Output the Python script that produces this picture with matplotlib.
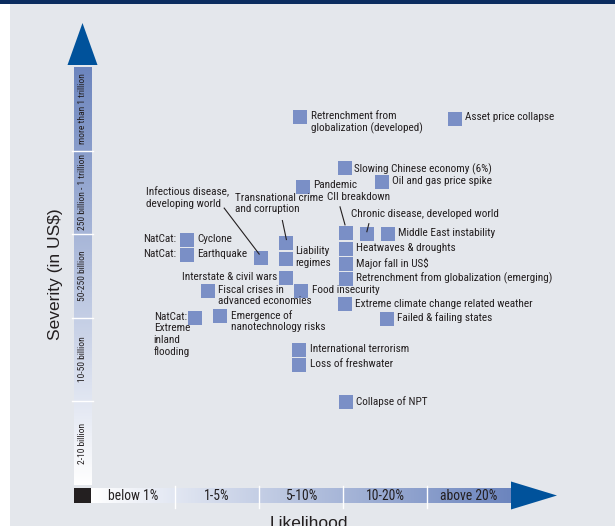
import matplotlib.pyplot as plt
import numpy as np
from matplotlib.patches import Polygon, Rectangle
from matplotlib.colors import LinearSegmentedColormap

# Axis bands
likelihood_bands = ['below 1%', '1-5%', '5-10%', '10-20%', 'above 20%']
severity_bands = ['2-10 billion', '10-50 billion', '50-250 billion',
                  '250 billion - 1 trillion', 'more than 1 trillion']

# Risks: position on the likelihood / severity scales (0-5, one unit per band)
risks = [
    'Retrenchment from\nglobalization (developed)',
    'Asset price collapse',
    'Slowing Chinese economy (6%)',
    'Oil and gas price spike',
    'Pandemic',
    'CII breakdown',
    'Chronic disease, developed world',
    'Middle East instability',
    'Heatwaves & droughts',
    'Major fall in US$',
    'Retrenchment from globalization (emerging)',
    'Extreme climate change related weather',
    'Failed & failing states',
    'Food insecurity',
    'Transnational crime\nand corruption',
    'Liability\nregimes',
    'Interstate & civil wars',
    'Infectious disease,\ndeveloping world',
    'Cyclone',
    'Earthquake',
    'Fiscal crises in\nadvanced economies',
    'NatCat:\nExtreme\ninland\nflooding',
    'Emergence of\nnanotechnology risks',
    'International terrorism',
    'Loss of freshwater',
    'Collapse of NPT',
]
likelihood = [2.49, 4.33, 3.02, 3.46, 2.52, 3.03, 3.29, 3.53, 3.03, 3.03, 3.03,
              3.02, 3.52, 2.50, 2.32, 2.32, 2.32, 2.02, 1.14, 1.14, 1.39, 1.24,
              1.54, 2.48, 2.48, 3.03]
severity = [4.40, 4.38, 3.79, 3.62, 3.57, 3.01, 3.00, 3.00, 2.82, 2.64, 2.46,
            2.16, 1.99, 2.32, 2.90, 2.70, 2.48, 2.72, 2.93, 2.75, 2.32, 2.00,
            2.02, 1.61, 1.43, 0.99]

# label placement: offset (pixels) of the first text line centre from the marker
label_layout = {
    'CII breakdown': (-18.5, 34.5, 'left'),
    'Chronic disease, developed world': (-16.5, 18.5, 'left'),
    'Transnational crime\nand corruption': (-50.5, 43, 'left'),
    'Liability\nregimes': (9.5, 6.5, 'left'),
    'Interstate & civil wars': (-8.5, -0.5, 'right'),
    'Infectious disease,\ndeveloping world': (-114.5, 64.5, 'left'),
    'NatCat:\nExtreme\ninland\nflooding': (-41.5, -0.5, 'left'),
    'Slowing Chinese economy (6%)': (9.5, -1.5, 'left'),
    'Extreme climate change related weather': (10.5, -1.5, 'left'),
}
prefixes = {'Cyclone': 'NatCat:', 'Earthquake': 'NatCat:'}
# leader lines: (start offset, end offset) in pixels from the marker centre
leaders = {
    'CII breakdown': ((-5.5, 26.5), (-0.5, 8.5)),
    'Chronic disease, developed world': ((1.5, 10.5), (-0.5, 2.5)),
    'Transnational crime\nand corruption': ((-3.5, 22), (0.5, 3)),
    'Infectious disease,\ndeveloping world': ((-36.5, 49.5), (-1.5, 3.5)),
}

TEXT = '#231f20'
MARKER = '#7a8fc6'
ARROW = '#00529b'
BG = '#e4e7ec'
NARROW = ['Roboto Condensed', 'Archivo Narrow', 'DejaVu Sans']
REGULAR = ['Liberation Sans', 'DejaVu Sans']
LABEL_SIZE = 8.1

fig = plt.figure(figsize=(6.15, 5.26), dpi=100)
fig.patch.set_facecolor('white')
ax = fig.add_axes([0, 0, 1, 1])
# one data unit = one band: 84 px wide, 83.6 px tall, origin at pixel (91, 485)
ax.set_xlim(-91 / 84, (615 - 91) / 84)
ax.set_ylim(-41 / 83.6, 485 / 83.6)
ax.axis('off')

# background panel and top rule
ax.add_patch(Rectangle((9.5 / 615, 0), 1, 522.5 / 526, transform=ax.transAxes,
                       facecolor=BG, edgecolor='none', zorder=0))
ax.add_patch(Rectangle((0, 522.5 / 526), 1, 0.01, transform=ax.transAxes,
                       facecolor='#0b2c5f', edgecolor='none', zorder=0))


def shift(x, y, dx, dy):
    X, Y = ax.transData.transform((x, y))
    return ax.transData.inverted().transform((X + dx, Y + dy))


grad = LinearSegmentedColormap.from_list('band', ['#ffffff', '#6c85be'])
ramp = np.linspace(0, 1, 256)

# severity bar (vertical)
x0, _ = shift(0, 0, -17, 0)
ax.imshow(ramp[:, None], cmap=grad, origin='lower', aspect='auto',
          extent=(x0, 0, 0, 5), zorder=1)
# likelihood bar (horizontal)
_, y0 = shift(0, 0, 0, -3)
_, y1 = shift(0, 0, 0, -18)
ax.imshow(ramp[None, :], cmap=grad, origin='lower', aspect='auto',
          extent=(0, 5, y1, y0), zorder=1)
ax.add_patch(Rectangle((x0, y1), -x0, y0 - y1, facecolor='#231f20',
                       edgecolor='none', zorder=1))

xa, _ = shift(0, 0, -19, 0)
xb, _ = shift(0, 0, 2, 0)
for i in range(1, 5):
    ax.plot([xa, xb], [i, i], color='white', lw=1, zorder=2)
_, ya = shift(0, 0, 0, -1)
_, yb = shift(0, 0, 0, -23)
for i in range(1, 5):
    ax.plot([i, i], [ya, yb], color='white', lw=1, zorder=2)

for i, lab in enumerate(likelihood_bands):
    ax.text(i + 0.5, (y0 + y1) / 2, lab, ha='center', va='center',
            fontsize=9.8, color=TEXT, family=NARROW, zorder=3)
for i, lab in enumerate(severity_bands):
    ax.text(x0 / 2, i + 0.5, lab, ha='center', va='center', rotation=90,
            fontsize=6.8, color=TEXT, family=NARROW, zorder=3)

# arrows
tip = shift(x0 / 2, 5, 0, 44)
bl = shift(x0 / 2, 5, -15, 2)
br = shift(x0 / 2, 5, 15, 2)
ax.add_patch(Polygon([bl, br, tip], closed=True, facecolor=ARROW,
                     edgecolor='none', zorder=2))
ym = (y0 + y1) / 2
tip = shift(5, ym, 46, 0)
bt = shift(5, ym, 0, 14)
bb = shift(5, ym, 0, -14)
ax.add_patch(Polygon([bt, bb, tip], closed=True, facecolor=ARROW,
                     edgecolor='none', zorder=2))

# axis titles
ax.text(*shift(0, 0, -35.5, 211), 'Severity (in US$)', rotation=90,
        ha='center', va='center', fontsize=12.5, color=TEXT, family=REGULAR)
ax.text(*shift(2.5, 0, 8, -31), 'Likelihood', ha='center', va='top',
        fontsize=12.5, color=TEXT, family=REGULAR)

# risks
ax.scatter(likelihood, severity, marker='s', s=9.4 ** 2, color=MARKER,
           linewidths=0, zorder=4)

for name, x, y in zip(risks, likelihood, severity):
    dx, dy, ha = label_layout.get(name, (10.5, 0, 'left'))
    ax.text(*shift(x, y, dx, dy + 6.5), name, ha=ha, va='top',
            fontsize=LABEL_SIZE, linespacing=1.17, color=TEXT, family=NARROW,
            zorder=5)
    if name in prefixes:
        ax.text(*shift(x, y, -10.5, 6.5), prefixes[name], ha='right', va='top',
                fontsize=LABEL_SIZE, color=TEXT, family=NARROW, zorder=5)
    if name in leaders:
        (sx, sy), (ex, ey) = leaders[name]
        p0 = shift(x, y, sx, sy)
        p1 = shift(x, y, ex, ey)
        ax.plot([p0[0], p1[0]], [p0[1], p1[1]], color=TEXT, lw=0.8, zorder=5)

fig.savefig('out.png', dpi=100, facecolor=fig.get_facecolor())
